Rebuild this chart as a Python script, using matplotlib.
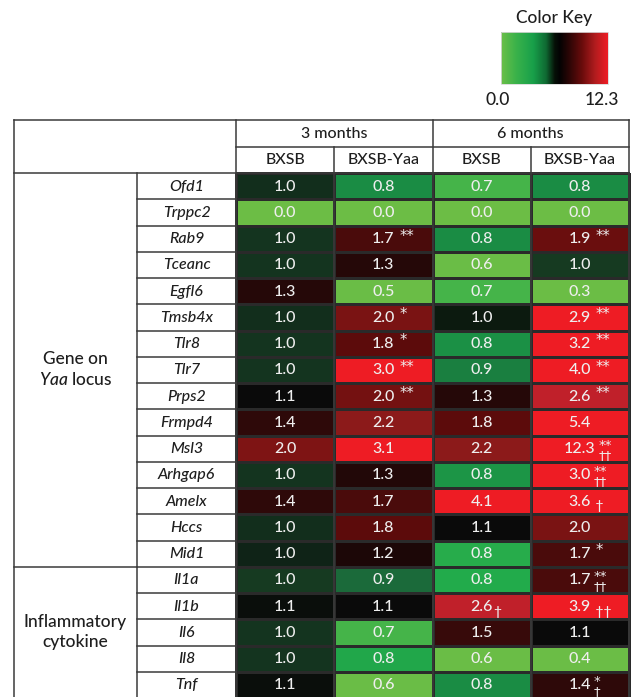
import numpy as np
import matplotlib
matplotlib.use("Agg")
import matplotlib.pyplot as plt
from matplotlib.colors import LinearSegmentedColormap, Normalize
from matplotlib.patches import Rectangle

plt.rcParams['font.family'] = ['Lato', 'DejaVu Sans']
plt.rcParams['font.weight'] = 'medium'
plt.rcParams['mathtext.fontset'] = 'custom'
plt.rcParams['mathtext.it'] = 'Lato:italic:medium'
plt.rcParams['mathtext.rm'] = 'Lato:medium'

# ---------------- data ----------------
genes = ['Ofd1', 'Trppc2', 'Rab9', 'Tceanc', 'Egfl6', 'Tmsb4x', 'Tlr8', 'Tlr7',
         'Prps2', 'Frmpd4', 'Msl3', 'Arhgap6', 'Amelx', 'Hccs', 'Mid1',
         'Il1a', 'Il1b', 'Il6', 'Il8', 'Tnf']
groups = ['Gene on\n$\\mathit{Yaa}$ locus', 'Inflammatory\ncytokine']
group_sizes = [15, 5]
periods = ['3 months', '6 months']
strains = ['BXSB', 'BXSB-Yaa', 'BXSB', 'BXSB-Yaa']

# fold change (estimated to 2 decimals from cell shade; shown rounded to 1 decimal)
bxsb_3m = [0.99, 0.00, 0.98, 0.98, 1.30, 0.99, 0.98, 0.98, 1.10, 1.40,
           2.04, 0.98, 1.40, 0.99, 1.01, 0.97, 1.08, 0.98, 0.98, 1.08]
yaa_3m = [0.84, 0.00, 1.70, 1.30, 0.50, 2.00, 1.80, 3.00, 1.96, 2.20,
          3.10, 1.27, 1.70, 1.80, 1.20, 0.92, 1.10, 0.70, 0.78, 0.60]
bxsb_6m = [0.70, 0.00, 0.84, 0.60, 0.70, 1.03, 0.83, 0.87, 1.30, 1.80,
           2.20, 0.82, 4.10, 1.10, 0.76, 0.77, 2.60, 1.50, 0.60, 0.84]
yaa_6m = [0.84, 0.00, 1.90, 0.97, 0.30, 2.90, 3.20, 4.00, 2.60, 5.40,
          12.30, 3.00, 3.60, 2.00, 1.70, 1.70, 3.90, 1.10, 0.40, 1.40]

# significance marks: stars (upper) and daggers (lower)
stars_yaa_3m = {2: '**', 5: '*', 6: '*', 7: '**', 8: '**'}
stars_yaa_6m = {2: '**', 5: '**', 6: '**', 7: '**', 8: '**', 10: '**', 11: '**',
                14: '*', 15: '**', 19: '*'}
daggers_bxsb_6m = {16: '†'}
daggers_yaa_6m = {10: '††', 11: '††', 12: ' †', 15: '††', 16: ' ††', 19: '†'}

key_min, key_max = 0.0, 12.3

# ---------------- colours ----------------
cell_nodes = [(0.00, '#6cbd45'), (0.60, '#6abd46'), (0.70, '#45b449'),
              (0.77, '#22ab4b'), (0.84, '#1a8c44'), (0.92, '#1b6a3a'),
              (0.97, '#163a21'), (1.00, '#10281a'), (1.04, '#0b150c'),
              (1.10, '#0a0a0a'), (1.20, '#1c0707'), (1.30, '#250808'),
              (1.45, '#320a0a'), (1.70, '#4a0b0b'), (1.80, '#5c0b0b'),
              (1.90, '#6a0e0e'), (2.00, '#7a1313'), (2.20, '#8c1a1a'),
              (2.60, '#c0202a'), (2.90, '#ee1c24'), (3.00, '#ee1c24')]
vmax = 3.0
cell_cmap = LinearSegmentedColormap.from_list(
    'cells', [(v / vmax, c) for v, c in cell_nodes], N=4096)
key_cmap = LinearSegmentedColormap.from_list(
    'key', [(0.0, '#6cbf48'), (0.14, '#3ab24a'), (0.30, '#18a04a'),
            (0.42, '#0f6a33'), (0.50, '#061208'), (0.55, '#030303'),
            (0.64, '#2c0606'), (0.76, '#6a0c0c'), (0.88, '#b01c1e'),
            (1.0, '#ee1d25')], N=512)

# ---------------- layout ----------------
W, H = 637, 697
fig = plt.figure(figsize=(W / 100, H / 100), dpi=100)
ax = fig.add_axes([0, 0, 1, 1])
ax.axis('off')

x_left, x_gene, x_data, x_right = 14, 137, 236, 629
y_top, y_hdr2, y_body = 120, 147, 173
row_h = 26.25
n = len(genes)
xe = np.linspace(x_data, x_right, 5)
ye = y_body + row_h * np.arange(n + 1)

values = np.array([bxsb_3m, yaa_3m, bxsb_6m, yaa_6m]).T
ax.pcolormesh(xe, ye, values, cmap=cell_cmap, norm=Normalize(0, vmax),
              edgecolors='#2a2a2a', linewidth=0.8)

lc = '#3a3a3a'
lw = 1.1
y_end = ye[-1]
ax.plot([x_left, x_right], [y_top, y_top], color=lc, lw=lw)
ax.plot([x_left, x_left], [y_top, y_end], color=lc, lw=lw)
ax.plot([x_right, x_right], [y_top, y_end], color=lc, lw=lw)
ax.plot([x_left, x_right], [y_body, y_body], color=lc, lw=lw)
ax.plot([x_data, x_right], [y_hdr2, y_hdr2], color=lc, lw=lw)
ax.plot([x_data, x_data], [y_top, y_end], color=lc, lw=lw)
ax.plot([xe[2], xe[2]], [y_top, y_end], color=lc, lw=lw)
for xv in (xe[1], xe[3]):
    ax.plot([xv, xv], [y_hdr2, y_end], color=lc, lw=lw)
ax.plot([x_gene, x_gene], [y_body, y_end], color=lc, lw=lw)
for i in range(1, n):
    ax.plot([x_gene, x_data], [ye[i], ye[i]], color=lc, lw=lw)

tc = '#1e1e1e'
start = 0
for gname, gsize in zip(groups, group_sizes):
    y0, y1 = ye[start], ye[start + gsize]
    if start > 0:
        ax.plot([x_left, x_gene], [y0, y0], color=lc, lw=lw)
    ax.text((x_left + x_gene) / 2, (y0 + y1) / 2, gname, ha='center', va='center',
            fontsize=12.5, color=tc, linespacing=1.3)
    start += gsize

fs = 11.5
ax.text((xe[0] + xe[2]) / 2, (y_top + y_hdr2) / 2 + 0.5, periods[0], ha='center',
        va='center', fontsize=fs, color=tc)
ax.text((xe[2] + xe[4]) / 2, (y_top + y_hdr2) / 2 + 0.5, periods[1], ha='center',
        va='center', fontsize=fs, color=tc)
for j, s in enumerate(strains):
    ax.text((xe[j] + xe[j + 1]) / 2, (y_hdr2 + y_body) / 2 + 0.5, s, ha='center',
            va='center', fontsize=fs, color=tc)
for i, g in enumerate(genes):
    ax.text((x_gene + x_data) / 2, (ye[i] + ye[i + 1]) / 2 + 0.5, g, ha='center',
            va='center', fontsize=fs, color=tc, style='italic')

# numbers + marks
wc = '#eeeeee'
star_cols = {1: stars_yaa_3m, 3: stars_yaa_6m}
dag_cols = {2: daggers_bxsb_6m, 3: daggers_yaa_6m}
for i in range(n):
    y0 = ye[i]
    for j in range(4):
        v = values[i, j]
        t = ax.text((xe[j] + xe[j + 1]) / 2, (ye[i] + ye[i + 1]) / 2 + 0.5, f'{v:.1f}',
                    ha='center', va='center', fontsize=fs, color=wc)
        st = star_cols.get(j, {}).get(i)
        dg = dag_cols.get(j, {}).get(i)
        if st and dg:
            ax.annotate(st + '\n' + dg, xy=(1, y0 + row_h / 2 + 1.5),
                        xycoords=(t, 'data'), xytext=(2.0, 0),
                        textcoords='offset points', ha='left', va='center',
                        fontsize=9.5, color=wc, family='DejaVu Sans',
                        linespacing=0.72, multialignment='center')
        elif st:
            ax.annotate(st, xy=(1, y0 + 15), xycoords=(t, 'data'), xytext=(3.5, 0),
                        textcoords='offset points', ha='left', va='baseline',
                        fontsize=10.5, color=wc, family='DejaVu Sans')
        elif dg:
            ax.annotate(dg, xy=(1, y0 + 22.5), xycoords=(t, 'data'), xytext=(0.5, 0),
                        textcoords='offset points', ha='left', va='baseline',
                        fontsize=10, color=wc)

# colour key
kx0, kx1, ky0, ky1 = 501, 608, 32, 84
grad = np.linspace(key_min, key_max, 256)[None, :]
ax.imshow(grad, extent=(kx0, kx1, ky1, ky0), aspect='auto', cmap=key_cmap,
          vmin=key_min, vmax=key_max, interpolation='bilinear')
ax.add_patch(Rectangle((kx0, ky0), kx1 - kx0, ky1 - ky0, fill=False,
                       edgecolor='#d8d8d8', lw=0.6))
ax.text((kx0 + kx1) / 2, 18, 'Color Key', ha='center', va='center', fontsize=12.5, color=tc)
ax.text(498, 100, f'{key_min:.1f}', ha='center', va='center', fontsize=12.5, color=tc)
ax.text(602, 100, f'{key_max:.1f}', ha='center', va='center', fontsize=12.5, color=tc)

ax.set_xlim(0, W)
ax.set_ylim(H, 0)
fig.savefig('out.png', dpi=100)
